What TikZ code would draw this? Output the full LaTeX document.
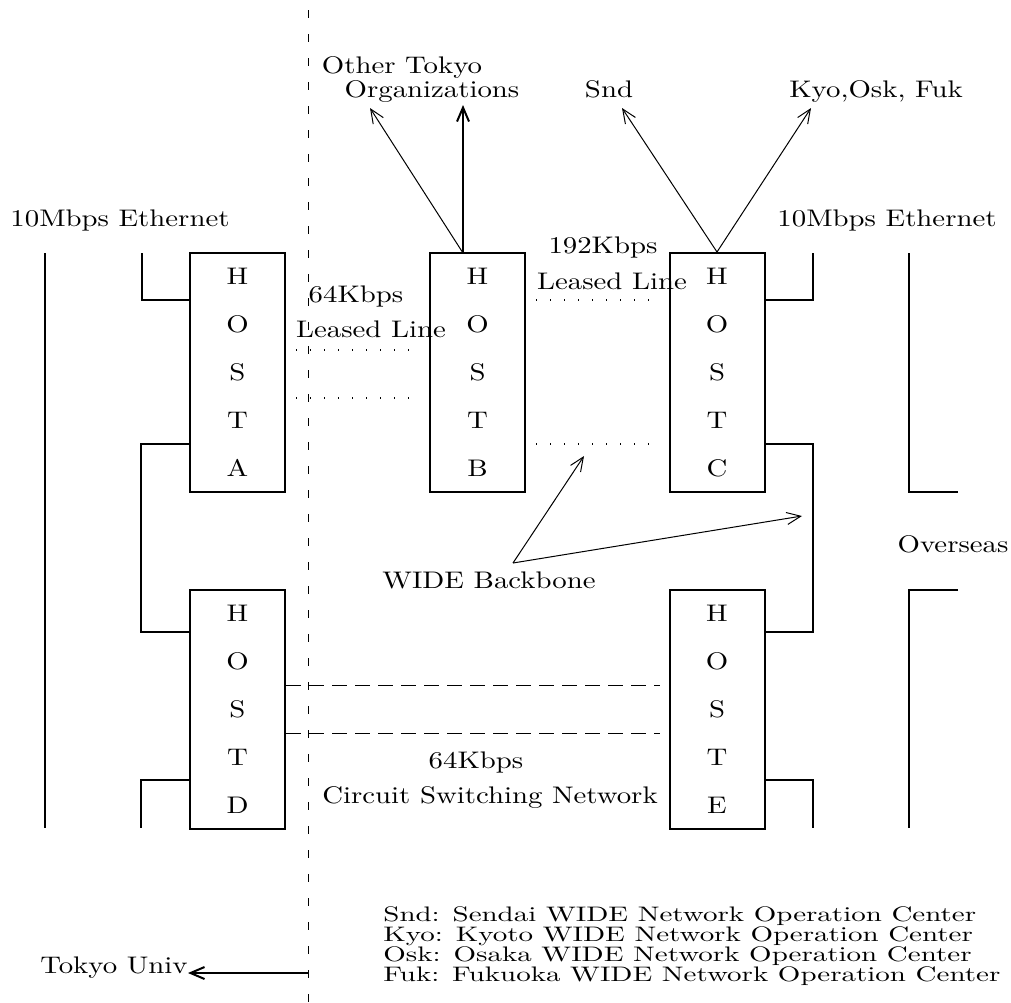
\documentclass[tikz,border=0pt]{standalone}
\usepackage{fontspec}
\setmainfont{lmroman10-regular.otf}[FakeStretch=1.2]
\newfontfamily\legendfont{lmroman10-regular.otf}[FakeStretch=1.38]
\usetikzlibrary{arrows.meta}

\begin{document}
\begin{tikzpicture}[
    x=0.5pt, y=-0.5pt,
    font=\fontsize{12}{14}\selectfont,
    host/.style={
        draw,
        line width=1pt,
        minimum width=47.5pt,
        minimum height=119.5pt,
        inner sep=0pt,
        align=center,
        font=\fontsize{12}{24}\selectfont
    },
    wire/.style={
        line width=1pt
    },
    ethernet/.style={
        line width=1pt
    },
    leased/.style={
        line width=0.6pt,
        dash pattern=on 0.6pt off 6.4pt,
        shorten <=5pt,
        shorten >=5pt
    },
    circuit/.style={
        line width=0.5pt,
        dash pattern=on 7.5pt off 4pt,
        shorten >=4.5pt
    },
    border/.style={
        line width=0.5pt,
        dash pattern=on 4pt off 8pt
    },
    uplink/.style={
        line width=0.5pt,
        -{Straight Barb[length=7pt,width=6pt]}
    },
    caption/.style={
        anchor=base,
        inner sep=0pt
    },
    legend/.style={
        anchor=north west,
        inner sep=0pt,
        align=left,
        font={\legendfont\fontsize{10.5}{10}\selectfont\lineskiplimit=-20pt}
    }
]

\useasboundingbox (0,0) rectangle (1011,1002);

% ==================== HOSTS ====================
\node[host] (hosta) at (237.5,372.5) {H\\O\\S\\T\\A};
\node[host] (hostb) at (477.5,372.5) {H\\O\\S\\T\\B};
\node[host] (hostc) at (717,372.5) {H\\O\\S\\T\\C};
\node[host] (hostd) at (237.5,709) {H\\O\\S\\T\\D};
\node[host] (hoste) at (717,709) {H\\O\\S\\T\\E};

% ==================== ETHERNETS ====================
\draw[ethernet] (45,253) -- (45,828);
\draw[ethernet] (909,253) -- (909,492) -- (958,492);
\draw[ethernet] (958,590) -- (909,590) -- (909,828);

\draw[wire] (142,253) |- (hosta.west |- 0,300);
\draw[wire] (hosta.west |- 0,444) -- ++(-48,0) |- (hostd.west |- 0,632);
\draw[wire] (hostd.west |- 0,780) -- ++(-48,0) -- ++(0,48);

\draw[wire] (hostc.east |- 0,300) -- ++(47,0) -- ++(0,-47);
\draw[wire] (hostc.east |- 0,444) -- ++(47,0) |- (hoste.east |- 0,632);
\draw[wire] (hoste.east |- 0,780) -- ++(47,0) -- ++(0,48);

\node[caption] (ethleft) at (120,226) {10Mbps Ethernet};
\node[caption] (ethright) at (887,226) {10Mbps Ethernet};
\node[caption] (overseas) at (953,552) {Overseas};

% ==================== LEASED LINES ====================
\draw[leased] (hosta.east |- 0,350) -- (hostb.west |- 0,350);
\draw[leased] (hosta.east |- 0,398) -- (hostb.west |- 0,398);
\draw[leased] (hostb.east |- 0,300) -- (hostc.west |- 0,300);
\draw[leased] (hostb.east |- 0,444) -- (hostc.west |- 0,444);

\node[caption] (speedab) at (356,302) {64Kbps};
\node[caption] (leasedab) at (371,337) {Leased Line};
\node[caption] (speedbc) at (603,253) {192Kbps};
\node[caption] (leasedbc) at (612,289) {Leased Line};

% ==================== CIRCUIT SWITCHING ====================
\draw[circuit] (hostd.east |- 0,685) -- (hoste.west |- 0,685);
\draw[circuit] (hostd.east |- 0,733) -- (hoste.west |- 0,733);

\node[caption] (speedde) at (476,768) {64Kbps};
\node[caption] (circuitde) at (490,803) {Circuit Switching Network};

% ==================== UPLINKS ====================
\coordinate (bout) at (463,253);
\coordinate (orgtipa) at (370,108);
\coordinate (orgtipb) at (463,105);
\coordinate (sndtip) at (622,108);
\coordinate (kyotip) at (811,108);

\draw[uplink] (bout) -- (orgtipa);
\draw[uplink, line width=1pt] (bout) -- (orgtipb);
\draw[uplink] (hostc.north) -- (sndtip);
\draw[uplink] (hostc.north) -- (kyotip);

\node[caption] (othertokyo) at (402,73) {Other Tokyo};
\node[caption] (orgs) at (432,97) {Organizations};
\node[caption] (snd) at (609,97) {Snd};
\node[caption] (kyo) at (876,97) {Kyo,Osk, Fuk};

% ==================== WIDE BACKBONE ====================
\coordinate (widefoot) at (513,563);
\coordinate (widetipa) at (584,456);
\coordinate (widetipb) at (802,516);

\draw[uplink] (widefoot) -- (widetipa);
\draw[uplink] (widefoot) -- (widetipb);

\node[caption] (wide) at (489,588) {WIDE Backbone};

% ==================== CAMPUS BORDER ====================
\draw[border] (308,10) -- (308,1002);

\coordinate (tokyoout) at (308,973);
\node[caption, anchor=base east] (tokyo) at (188,973) {Tokyo Univ};
\draw[uplink, line width=1pt] (tokyoout) -- (tokyo.base east);

% Legend
\node[legend] (legendtext) at (383,906) {Snd: Sendai WIDE Network Operation Center\\
    Kyo: Kyoto WIDE Network Operation Center\\
    Osk: Osaka WIDE Network Operation Center\\
    Fuk: Fukuoka WIDE Network Operation Center};

\end{tikzpicture}
\end{document}
